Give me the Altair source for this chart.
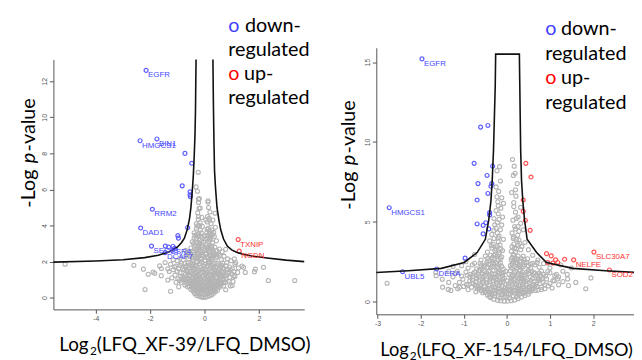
import altair as alt
import pandas as pd

# ---------------- LEFT PANEL: XF-39 ----------------
L_XTICKS = [-4, -2, 0, 2]
L_YTICKS = [0, 2, 4, 6, 8, 10, 12]

L_GREY = [
    (-0.42,0.38),(-0.35,0.22),(-0.28,0.12),(-0.2,0.08),(-0.12,0.04),(-0.05,0.02),(0.03,0.03),(0.1,0.06),
    (0.18,0.1),(0.26,0.15),(0.33,0.24),(0.4,0.33),(0.48,0.42),(-0.5,0.46),(-0.15,0.2),(0.0,0.15),(0.12,0.22),
    (-0.25,0.3),(0.22,0.32),(-0.05,0.35),(0.3,0.45),(-0.33,0.45),(0.08,0.42),(-0.18,0.44),
    (-0.85,0.85),(-0.72,0.7),(-0.62,0.6),(-0.55,0.78),(-0.45,0.55),(-0.38,0.7),(-0.3,0.62),(-0.22,0.8),
    (-0.12,0.58),(-0.04,0.72),(0.05,0.6),(0.14,0.78),(0.22,0.55),(0.3,0.7),(0.38,0.62),(0.46,0.8),(0.55,0.58),
    (0.62,0.75),(0.7,0.65),(0.78,0.85),(0.88,0.92),(-0.92,0.95),(-0.65,0.92),(-0.48,0.95),(-0.3,0.9),
    (-0.15,0.95),(0.0,0.88),(0.18,0.95),(0.35,0.9),(0.52,0.95),(0.68,0.98),(-0.78,0.98),
    (-1.2,1.1),(-1.08,1.25),(-0.98,1.05),(-0.9,1.38),(-0.8,1.15),(-0.7,1.3),(-0.6,1.05),(-0.52,1.45),
    (-0.43,1.2),(-0.35,1.35),(-0.26,1.08),(-0.18,1.3),(-0.08,1.15),(0.02,1.42),(0.1,1.12),(0.18,1.3),
    (0.26,1.05),(0.34,1.4),(0.42,1.18),(0.5,1.32),(0.58,1.08),(0.66,1.45),(0.74,1.2),(0.84,1.35),(0.93,1.12),
    (1.02,1.3),(1.12,1.18),(1.22,1.4),(-1.3,1.45),(-0.65,1.48),(0.25,1.48),(0.8,1.02),
    (-1.35,1.6),(-1.25,1.85),(-1.15,1.55),(-1.05,1.75),(-0.95,1.62),(-0.85,1.9),(-0.75,1.55),(-0.66,1.78),
    (-0.58,1.65),(-0.5,1.95),(-0.42,1.58),(-0.34,1.8),(-0.26,1.6),(-0.18,1.88),(-0.1,1.55),(-0.02,1.75),
    (0.06,1.6),(0.14,1.92),(0.22,1.68),(0.3,1.82),(0.38,1.55),(0.46,1.9),(0.55,1.65),(0.63,1.8),(0.72,1.58),
    (0.82,1.95),(0.92,1.7),(1.02,1.6),(1.12,1.85),(1.25,1.65),(1.38,1.75),(-1.45,1.95),
    (-1.0,2.05),(-0.9,2.2),(-0.78,2.1),(-0.68,2.35),(-0.58,2.15),(-0.5,2.42),(-0.42,2.08),(-0.35,2.3),
    (-0.27,2.18),(-0.2,2.45),(-0.12,2.12),(-0.05,2.32),(0.03,2.05),(0.1,2.28),(0.18,2.4),(0.25,2.12),
    (0.33,2.35),(0.42,2.2),(0.52,2.45),(0.62,2.1),(0.72,2.3),(0.85,2.15),(0.98,2.05),(-0.3,2.02),(0.15,2.02),
    (-0.6,2.55),(-0.5,2.75),(-0.42,2.6),(-0.35,2.9),(-0.28,2.65),(-0.22,2.85),(-0.15,2.55),(-0.08,2.78),
    (0.0,2.62),(0.06,2.95),(0.12,2.7),(0.18,2.58),(0.24,2.88),(0.3,2.65),(0.38,2.8),(0.46,2.6),(0.55,2.7),
    (-0.7,2.62),(0.65,2.55),(-0.18,2.98),
    (-0.45,3.1),(-0.38,3.3),(-0.3,3.05),(-0.24,3.42),(-0.17,3.2),(-0.1,3.35),(-0.03,3.08),(0.05,3.25),
    (0.1,3.45),(0.16,3.12),(0.22,3.3),(0.29,3.05),(0.36,3.4),(0.44,3.15),(-0.2,3.0),
    (-0.38,3.6),(-0.3,3.85),(-0.22,3.55),(-0.15,3.75),(-0.08,3.95),(0.08,3.6),(0.14,3.85),(0.2,3.55),
    (0.27,3.75),(0.34,3.62),(0.4,3.9),(-0.26,3.98),
    (-0.3,4.1),(-0.23,4.35),(-0.16,4.15),(-0.1,4.45),(0.1,4.2),(0.17,4.4),(0.24,4.1),(0.31,4.3),(0.19,4.3),
    (-0.22,4.5),(-0.25,4.7),(-0.2,4.95),(-0.16,4.97),(0.11,4.5),(0.2,4.75),(0.39,4.68),(0.15,5.0),
    (-0.22,5.28),(0.13,5.37),(-0.22,5.46),(-0.19,5.5),(0.13,5.3),(-0.31,6.14),(-0.23,6.95),(-0.26,5.9),
    (-5.13,1.86),(-2.6,1.8),(-2.25,1.58),(-2.07,1.3),(-1.89,1.42),(-1.65,1.76),(-1.59,1.22),(-2.19,0.45),
    (-1.35,0.98),(-1.25,0.35),(-1.83,1.35),(-1.59,1.62),(0.84,1.58),(1.08,1.22),(1.44,1.68),(1.5,1.4),
    (1.87,1.58),(2.17,1.68),(2.35,0.95),(3.32,0.95),(1.02,0.67),(0.78,0.44),(0.78,2.68),(1.84,1.44),
]
L_GREY_CORE = [
    (-0.55,0.62),(-0.47,0.7),(-0.4,0.5),(-0.33,0.58),(-0.27,0.48),(-0.2,0.55),(-0.13,0.4),(-0.07,0.5),
    (0.0,0.45),(0.06,0.55),(0.13,0.48),(0.2,0.6),(0.27,0.52),(0.35,0.56),(0.42,0.5),(0.5,0.68),(0.58,0.7),
    (-0.6,0.85),(-0.5,0.88),(-0.42,0.82),(-0.34,0.78),(-0.26,0.86),(-0.18,0.72),(-0.1,0.8),(-0.02,0.66),
    (0.06,0.82),(0.12,0.7),(0.2,0.85),(0.28,0.78),(0.36,0.82),(0.44,0.7),(0.52,0.84),(0.6,0.88),
    (-0.75,1.1),(-0.66,1.2),(-0.56,1.25),(-0.48,1.1),(-0.4,1.28),(-0.32,1.15),(-0.24,1.22),(-0.15,1.05),
    (-0.05,1.25),(0.06,1.3),(0.14,1.2),(0.22,1.22),(0.3,1.15),(0.38,1.28),(0.46,1.1),(0.54,1.25),(0.62,1.2),
    (0.7,1.32),
    (-0.8,1.6),(-0.7,1.7),(-0.62,1.5),(-0.54,1.8),(-0.46,1.7),(-0.38,1.65),(-0.3,1.72),(-0.22,1.5),
    (-0.14,1.68),(-0.06,1.62),(0.02,1.55),(0.1,1.75),(0.18,1.58),(0.26,1.75),(0.34,1.68),(0.42,1.72),
    (0.5,1.55),(0.6,1.7),(0.68,1.65),
    (-0.55,2.3),(-0.45,2.2),(-0.38,2.4),(-0.3,2.25),(-0.22,2.3),(-0.15,2.2),(-0.08,2.4),(0.0,2.25),
    (0.07,2.4),(0.14,2.2),(0.22,2.3),(0.3,2.2),(0.38,2.42),(0.46,2.3),
    (-0.33,2.7),(-0.25,2.75),(-0.18,2.68),(-0.1,2.9),(-0.04,2.7),(0.08,2.82),(0.15,2.8),(0.2,2.72),
    (0.27,2.78),(-0.28,3.5),(-0.2,3.4),(-0.12,3.6),(0.12,3.3),(0.18,3.7),(0.25,3.45),
    (-1.0,1.45),(-1.1,1.7),(-0.9,1.8),(0.95,1.55),(1.08,1.45),(1.15,1.95),(-1.15,2.1),(1.1,2.15),
    (-0.95,0.6),(0.95,0.65),(-1.05,0.85),(1.05,0.9),
]
L_GREY_CORE2 = [
    (-0.38,0.3),(-0.3,0.38),(-0.22,0.25),(-0.1,0.28),(0.05,0.3),(0.16,0.26),(0.25,0.38),(0.36,0.4),
    (-0.45,0.65),(-0.36,0.52),(-0.24,0.64),(-0.16,0.5),(-0.06,0.62),(0.1,0.52),(0.17,0.66),(0.25,0.62),
    (0.32,0.6),(0.4,0.72),(0.48,0.6),
    (-0.68,0.82),(-0.56,0.95),(-0.4,0.92),(-0.2,0.98),(-0.08,0.9),(0.1,0.96),(0.24,0.92),(0.42,0.95),
    (0.58,0.82),(0.72,0.88),
    (-0.88,1.2),(-0.72,1.05),(-0.6,1.38),(-0.45,1.35),(-0.3,1.45),(-0.2,1.15),(-0.12,1.4),(0.0,1.05),
    (0.1,1.4),(0.2,1.05),(0.32,1.25),(0.44,1.42),(0.56,1.38),(0.68,1.05),(0.8,1.25),(0.9,1.42),
    (-0.72,1.9),(-0.6,1.95),(-0.44,1.85),(-0.28,1.95),(-0.12,1.98),(0.04,1.88),(0.2,1.98),(0.36,1.9),
    (0.52,1.82),(0.66,1.92),(0.8,1.75),
    (-0.64,2.45),(-0.4,2.5),(-0.25,2.4),(-0.1,2.5),(0.05,2.45),(0.2,2.5),(0.34,2.5),(0.55,2.35),
    (-0.4,3.0),(-0.3,3.25),(-0.12,3.1),(0.0,3.4),(0.2,3.2),(0.3,3.5),(-0.35,3.45),(0.1,3.8),(-0.18,4.0),
    (0.05,4.3),
]
L_DOWN = [
    (-2.15,12.6),(-2.37,8.7),(-1.75,8.8),(-0.72,8.0),(-0.47,7.45),(-0.82,6.2),(-0.53,5.87),(-0.53,5.7),
    (-0.52,5.6),(-1.92,4.9),(-2.35,3.86),(-0.62,3.88),(-0.98,3.44),(-0.96,3.3),(-1.95,2.86),(-1.44,2.86),
    (-1.32,2.8),(-1.16,2.84),(-1.1,2.73),(-1.45,2.5),
]
L_UP = [(1.24,3.22),(1.28,2.58)]
L_LABELS = [
    ("EGFR",-2.15,12.6,"down"),("HMGCS1",-2.37,8.7,"down"),("BIN1",-1.75,8.8,"down"),
    ("RRM2",-1.92,4.9,"down"),("DAD1",-2.35,3.86,"down"),("SEC63",-1.95,2.86,"down"),
    ("SSR4",-1.32,2.8,"down"),("DCAF7",-1.45,2.5,"down"),("TXNIP",1.24,3.22,"up"),("NGDN",1.28,2.58,"up"),
]
L_CURVE_A = [(-5.56,1.97),(-4.0,2.03),(-3.0,2.1),(-2.2,2.22),(-1.7,2.35),(-1.3,2.55),(-1.0,2.8),(-0.85,3.05),
             (-0.74,3.3),(-0.63,3.8),(-0.55,4.4),(-0.5,5.0),(-0.45,5.9),(-0.41,6.8),(-0.38,7.8),(-0.35,9.0),
             (-0.33,10.5),(-0.32,12.0),(-0.31,13.2)]
L_CURVE_B = [(0.31,13.2),(0.33,10.5),(0.35,8.5),(0.37,7.0),(0.41,6.0),(0.46,5.0),(0.53,4.3),(0.6,3.75),
             (0.7,3.25),(0.84,2.86),(1.0,2.65),(1.2,2.5),(1.45,2.4),(1.8,2.3),(2.3,2.2),(3.0,2.08),(3.67,2.0)]

# ---------------- RIGHT PANEL: XF-154 ----------------
R_XTICKS = [-3, -2, -1, 0, 1, 2]
R_YTICKS = [0, 5, 10, 15]

R_GREY = [
    (-0.45,0.4),(-0.38,0.25),(-0.3,0.15),(-0.22,0.08),(-0.14,0.05),(-0.06,0.02),(0.02,0.03),(0.1,0.05),
    (0.18,0.1),(0.26,0.18),(0.34,0.28),(0.42,0.38),(0.5,0.46),(-0.2,0.3),(0.0,0.25),(0.15,0.35),(-0.35,0.45),
    (0.3,0.48),(-0.1,0.45),(0.08,0.48),
    (-0.9,0.75),(-0.82,0.9),(-0.72,0.62),(-0.64,0.85),(-0.56,0.55),(-0.48,0.78),(-0.4,0.6),(-0.32,0.92),
    (-0.24,0.68),(-0.16,0.85),(-0.08,0.58),(0.0,0.78),(0.08,0.65),(0.16,0.92),(0.24,0.6),(0.32,0.8),
    (0.4,0.55),(0.48,0.88),(0.56,0.66),(0.64,0.95),(0.72,0.72),(0.8,0.9),(0.88,0.8),(-1.0,0.95),(0.96,0.98),
    (-0.6,0.98),(0.3,0.98),
    (-1.1,1.2),(-1.02,1.4),(-0.94,1.08),(-0.86,1.3),(-0.78,1.15),(-0.7,1.45),(-0.62,1.05),(-0.54,1.3),
    (-0.46,1.18),(-0.38,1.42),(-0.3,1.1),(-0.22,1.35),(-0.14,1.2),(-0.06,1.45),(0.04,1.1),(0.12,1.3),
    (0.2,1.15),(0.28,1.42),(0.36,1.08),(0.44,1.28),(0.52,1.18),(0.6,1.45),(0.68,1.1),(0.76,1.35),(0.84,1.2),
    (0.92,1.42),(1.0,1.15),(1.1,1.3),(-1.2,1.0),(1.2,1.05),
    (-1.05,1.6),(-0.95,1.85),(-0.86,1.55),(-0.78,1.75),(-0.7,1.62),(-0.62,1.92),(-0.55,1.58),(-0.47,1.8),
    (-0.4,1.65),(-0.32,1.95),(-0.25,1.55),(-0.18,1.78),(-0.1,1.62),(-0.03,1.9),(0.1,1.58),(0.17,1.82),
    (0.24,1.66),(0.31,1.95),(0.38,1.6),(0.46,1.85),(0.54,1.55),(0.62,1.78),(0.7,1.68),(0.8,1.92),(0.9,1.6),
    (1.0,1.8),(1.15,1.7),(-1.2,1.78),(-1.35,1.9),(1.3,1.9),
    (-0.9,2.1),(-0.8,2.3),(-0.7,2.05),(-0.62,2.4),(-0.54,2.2),(-0.46,2.45),(-0.38,2.1),(-0.3,2.35),
    (-0.22,2.15),(-0.15,2.42),(-0.08,2.05),(0.08,2.25),(0.15,2.48),(0.22,2.1),(0.3,2.32),(0.38,2.18),
    (0.46,2.44),(0.55,2.08),(0.65,2.3),(0.75,2.15),(0.85,2.38),(1.0,2.1),(-1.05,2.25),
    (-0.6,2.6),(-0.5,2.85),(-0.42,2.55),(-0.34,2.75),(-0.26,2.95),(-0.2,2.6),(-0.12,2.8),(0.1,2.62),
    (0.16,2.9),(0.22,2.7),(0.3,2.55),(0.38,2.85),(0.48,2.68),(0.6,2.9),(-0.75,2.95),(0.72,2.6),
    (-0.45,3.1),(-0.36,3.5),(-0.28,3.2),(-0.2,3.75),(-0.14,3.3),(-0.08,3.9),(0.1,3.15),(0.16,3.6),
    (0.22,3.3),(0.28,3.85),(0.35,3.45),(0.42,3.7),(-0.3,3.95),(0.5,3.25),(-0.4,3.8),(0.15,3.95),(-0.18,3.05),
    (-0.35,4.2),(-0.25,4.6),(-0.18,4.1),(-0.12,4.8),(0.12,4.3),(0.18,4.7),(0.25,4.15),(0.32,4.9),
    (-0.22,4.95),(0.38,4.5),(-0.3,4.45),(0.2,4.55),
    (-0.3,5.2),(-0.2,5.5),(-0.14,5.85),(0.14,5.1),(0.2,5.6),(0.26,5.3),(0.32,5.9),(-0.25,5.7),(0.16,5.95),
    (-0.1,5.3),
    (-0.21,6.25),(-0.08,6.15),(-0.23,6.56),(0.21,6.6),(0.11,6.83),(-0.19,6.9),(-0.25,7.18),(0.24,7.39),
    (-0.15,7.55),(0.15,7.9),(0.19,8.04),(-0.23,8.2),(-0.17,8.45),(0.17,8.48),(0.13,8.9),(0.2,7.0),(-0.12,6.5),
    (-2.78,1.15),(-1.64,1.62),(-1.49,0.9),(-1.36,0.76),(-1.3,0.7),(-1.14,0.8),(-1.65,1.83),(1.95,1.48),
    (1.83,0.8),(1.41,1.42),(1.43,1.0),(1.11,1.62),(1.18,1.42),(1.07,1.31),(1.5,2.1),(-1.25,2.2),(1.25,2.3),
    (-1.5,1.4),(1.6,1.2),
]
R_GREY_CORE = [
    (-0.6,0.7),(-0.52,0.65),(-0.44,0.72),(-0.36,0.55),(-0.28,0.5),(-0.2,0.6),(-0.12,0.45),(-0.04,0.55),
    (0.04,0.5),(0.12,0.6),(0.2,0.52),(0.28,0.65),(0.36,0.58),(0.44,0.7),(0.52,0.6),(0.6,0.78),
    (-0.7,0.95),(-0.6,0.85),(-0.52,0.92),(-0.44,0.85),(-0.36,0.8),(-0.28,0.88),(-0.2,0.78),(-0.12,0.95),
    (-0.04,0.85),(0.04,0.92),(0.12,0.8),(0.2,0.88),(0.28,0.85),(0.36,0.92),(0.44,0.8),(0.52,0.9),(0.6,0.85),
    (0.7,0.95),
    (-0.8,1.35),(-0.72,1.25),(-0.64,1.35),(-0.56,1.2),(-0.48,1.35),(-0.4,1.25),(-0.32,1.3),(-0.24,1.15),
    (-0.16,1.35),(-0.08,1.25),(0.0,1.3),(0.08,1.2),(0.16,1.4),(0.24,1.25),(0.32,1.3),(0.4,1.2),(0.48,1.38),
    (0.56,1.3),(0.64,1.25),(0.72,1.3),(0.8,1.4),
    (-0.85,1.7),(-0.75,1.85),(-0.66,1.72),(-0.58,1.75),(-0.5,1.65),(-0.42,1.88),(-0.35,1.75),(-0.28,1.7),
    (-0.2,1.9),(-0.12,1.75),(0.05,1.7),(0.13,1.62),(0.2,1.9),(0.27,1.75),(0.34,1.7),(0.42,1.68),(0.5,1.75),
    (0.58,1.9),(0.66,1.6),(0.75,1.78),(0.85,1.7),
    (-0.6,2.25),(-0.5,2.3),(-0.42,2.35),(-0.34,2.2),(-0.26,2.45),(-0.18,2.3),(-0.12,2.2),(0.12,2.35),
    (0.18,2.2),(0.25,2.4),(0.33,2.15),(0.4,2.3),(0.5,2.25),(0.6,2.4),
    (-0.3,2.65),(-0.22,2.85),(-0.15,2.7),(0.12,2.75),(0.18,2.6),(0.26,2.85),(0.34,2.7),(-0.38,2.9),
    (-0.25,3.3),(-0.16,3.55),(-0.1,3.2),(0.12,3.45),(0.2,3.1),(0.26,3.55),(0.32,3.25),(-0.32,3.6),
    (-0.22,4.3),(0.15,4.05),(0.28,4.4),(-0.15,4.5),(0.22,5.2),(-0.18,5.15),
    (-1.25,1.55),(-1.15,1.9),(1.2,1.55),(1.3,1.25),(-0.95,2.5),(0.95,2.4),(-1.1,0.9),(1.05,0.85),
    (-1.35,1.2),(1.4,1.7),
]
R_GREY_CORE2 = [
    (-0.4,0.32),(-0.28,0.35),(-0.16,0.22),(-0.05,0.32),(0.06,0.2),(0.22,0.28),(0.38,0.5),
    (-0.68,0.78),(-0.5,0.6),(-0.42,0.5),(-0.3,0.72),(-0.18,0.62),(-0.06,0.7),(0.06,0.75),(0.16,0.7),
    (0.26,0.52),(0.34,0.72),(0.42,0.6),(0.54,0.75),(0.66,0.7),(0.8,0.75),
    (-0.9,1.05),(-0.74,1.05),(-0.58,1.42),(-0.42,1.05),(-0.26,1.42),(-0.18,1.05),(-0.02,1.1),(0.1,1.45),
    (0.22,1.05),(0.34,1.45),(0.46,1.05),(0.62,1.05),(0.74,1.45),(0.88,1.05),(-0.1,1.4),(0.38,1.32),
    (-0.92,1.65),(-0.8,1.55),(-0.65,1.95),(-0.52,1.9),(-0.38,1.55),(-0.22,1.65),(-0.08,1.82),(0.08,1.92),
    (0.22,1.55),(0.36,1.85),(0.5,1.95),(0.64,1.82),(0.78,1.62),(0.95,1.9),
    (-0.75,2.4),(-0.58,2.05),(-0.44,2.15),(-0.32,2.42),(-0.2,2.05),(0.1,2.1),(0.2,2.42),(0.28,2.25),
    (0.42,2.45),(0.55,2.35),(0.7,2.45),
    (-0.45,2.7),(-0.3,2.9),(-0.18,2.95),(0.15,2.95),(0.25,2.65),(0.4,2.62),(-0.35,3.35),(-0.22,3.45),
    (0.18,3.35),(0.3,3.65),(-0.2,4.0),(0.22,3.9),(-0.28,4.8),(0.26,4.7),(-0.2,6.0),(0.16,6.2),
]
R_DOWN = [
    (-1.97,15.2),(-0.61,10.93),(-0.44,11.03),(-0.76,8.66),(-0.33,8.48),(-0.46,7.9),(-0.67,7.39),(-0.35,7.39),
    (-0.37,7.22),(-0.44,6.77),(-0.69,6.36),(-0.4,5.57),(-0.4,5.43),(-0.69,4.86),(-0.55,4.77),(-0.49,4.94),
    (-0.42,4.55),(-0.55,4.24),(-2.73,5.88),(-0.97,2.72),(-2.42,1.87),(-1.63,2.04),
]
R_UP = [
    (0.44,8.66),(0.56,7.8),(0.38,6.36),(0.38,5.65),(0.43,5.08),(0.54,4.46),(0.92,3.0),(1.03,2.86),(1.13,2.61),
    (1.18,2.45),(1.07,2.41),(1.34,2.65),(1.55,2.61),(2.02,3.1),(2.38,1.98),(0.95,2.45),
]
R_LABELS = [
    ("EGFR",-1.97,15.2,"down"),("HMGCS1",-2.73,5.88,"down"),("UBL5",-2.42,1.87,"down"),
    ("DERA",-1.63,2.04,"down"),("SLC30A7",2.02,3.1,"up"),("NELFE",1.55,2.61,"up"),("SOD2",2.38,1.98,"up"),
]
R_CURVE = [(-3.03,1.82),(-2.29,1.93),(-1.52,2.08),(-0.99,2.45),(-0.69,3.07),(-0.5,3.9),(-0.42,5.12),
           (-0.37,6.3),(-0.34,7.6),(-0.31,9.5),(-0.29,11.5),(-0.27,13.5),(-0.26,15.5),(0.29,15.5),
           (0.3,13.5),(0.31,11.5),(0.32,9.5),(0.34,7.6),(0.37,6.3),(0.41,5.12),(0.47,3.9),(0.69,3.07),
           (0.92,2.45),(1.53,2.08),(2.29,1.93),(2.95,1.83)]

W, H = 634, 352
GREY = "#b4b4b4"
BLUE_PT = "#5c5cff"
RED_PT = "#ff5050"
BLUE_TX = "#4646ff"
RED_TX = "#ff3030"
FONT = "Lato"


def pts(lst):
    return pd.DataFrame(lst, columns=["x", "y"])


def curve_df(branches):
    rows = []
    for b, lst in enumerate(branches):
        for i, (x, y) in enumerate(lst):
            rows.append({"x": x, "y": y, "b": b, "o": i})
    return pd.DataFrame(rows)


def panel(grey, down, up, labels, branches, xdom, xrng, ydom, yrng, xticks, yticks, xoff, yoff):
    xs = alt.Scale(domain=xdom, range=xrng, nice=False, zero=False)
    ys = alt.Scale(domain=ydom, range=yrng, nice=False, zero=False)
    xa = alt.Axis(orient="bottom", offset=xoff, values=xticks, title=None, grid=False,
                  labelExpr="'' + datum.value", labelFontSize=7, labelColor="#555555",
                  labelFont="Liberation Sans", tickSize=4, tickColor="#555555",
                  domainColor="#555555", labelPadding=1)
    ya = alt.Axis(orient="left", offset=yoff, values=yticks, title=None, grid=False,
                  labelExpr="'' + datum.value", labelFontSize=7, labelColor="#555555",
                  labelFont="Liberation Sans", tickSize=4, tickColor="#555555",
                  domainColor="#555555", labelAngle=270, labelAlign="center",
                  labelBaseline="bottom", labelPadding=2)
    X = alt.X("x:Q", scale=xs, axis=xa)
    Y = alt.Y("y:Q", scale=ys, axis=ya)
    g = alt.Chart(pts(grey)).mark_point(shape="circle", filled=False, size=17, strokeWidth=1.1,
                                         color=GREY, opacity=1).encode(x=X, y=Y)
    c = alt.Chart(curve_df(branches)).mark_line(color="#111111", strokeWidth=1.6).encode(
        x=X, y=Y, detail="b:N", order="o:Q")
    d = alt.Chart(pts(down)).mark_point(shape="circle", filled=False, size=16, strokeWidth=1.2,
                                         color=BLUE_PT, opacity=1).encode(x=X, y=Y)
    u = alt.Chart(pts(up)).mark_point(shape="circle", filled=False, size=16, strokeWidth=1.2,
                                       color=RED_PT, opacity=1).encode(x=X, y=Y)
    lab = pd.DataFrame(labels, columns=["t", "x", "y", "k"])
    tb = alt.Chart(lab[lab.k == "down"]).mark_text(align="left", baseline="middle", dx=2, dy=5,
                                                   fontSize=8, font="Liberation Sans",
                                                   color=BLUE_TX).encode(x=X, y=Y, text="t:N")
    tr = alt.Chart(lab[lab.k == "up"]).mark_text(align="left", baseline="middle", dx=2, dy=5,
                                                 fontSize=8, font="Liberation Sans",
                                                 color=RED_TX).encode(x=X, y=Y, text="t:N")
    return alt.layer(g, d, u, c, tb, tr)


left = panel(L_GREY + L_GREY_CORE + L_GREY_CORE2, L_DOWN, L_UP, L_LABELS, [L_CURVE_A, L_CURVE_B],
             [-5.56, 3.67], [46, 300], [-0.65, 13.2], [303, 50], L_XTICKS, L_YTICKS, -49, -46)
right = panel(R_GREY + R_GREY_CORE + R_GREY_CORE2, R_DOWN, R_UP, R_LABELS, [R_CURVE],
              [-3.03, 2.95], [373, 634], [-0.8, 15.9], [308, 38], R_XTICKS, R_YTICKS, -44, -373)


def txt(s, x, y, size=20, color="black", angle=0, style="normal", align="left"):
    return alt.Chart(alt.Data(values=[{}])).mark_text(
        text=s, align=align, baseline="alphabetic", fontSize=size, font=FONT, color=color,
        angle=angle, fontStyle=style).encode(x=alt.value(x), y=alt.value(y))


texts = [
    # legend left
    txt("o", 223, 22, color="#4040ff"), txt("down-", 240, 22), txt("regulated", 223, 46),
    txt("o", 223, 71, color="#ff0000"), txt("up-", 239, 71), txt("regulated", 223, 95),
    # legend right
    txt("o", 544, 25, color="#4040ff"), txt("down-", 560, 25), txt("regulated", 544, 50),
    txt("o", 544, 75, color="#ff0000"), txt("up-", 560, 75), txt("regulated", 544, 100),
    # y titles
    txt("-Log", 27, 200, angle=270), txt("p", 27, 155, angle=270, style="italic"),
    txt("-value", 27, 143, angle=270),
    txt("-Log", 351, 202, angle=270), txt("p", 351, 157, angle=270, style="italic"),
    txt("-value", 351, 145, angle=270),
    # x titles
    txt("Log", 52, 345, size=19), txt("2", 83, 349, size=12), txt("(LFQ_XF-39/LFQ_DMSO)", 90, 345, size=19),
    txt("Log", 377, 350, size=18.5), txt("2", 407, 354, size=12),
    txt("(LFQ_XF-154/LFQ_DMSO)", 414, 350, size=18.3),
]

chart = alt.layer(left, right, *texts).resolve_scale(x="independent", y="independent").properties(
    width=W, height=H, autosize=alt.AutoSizeParams(type="none"), padding=0
).configure_view(stroke=None)

chart.save("out.html", embed_options={"renderer": "svg", "actions": False})
